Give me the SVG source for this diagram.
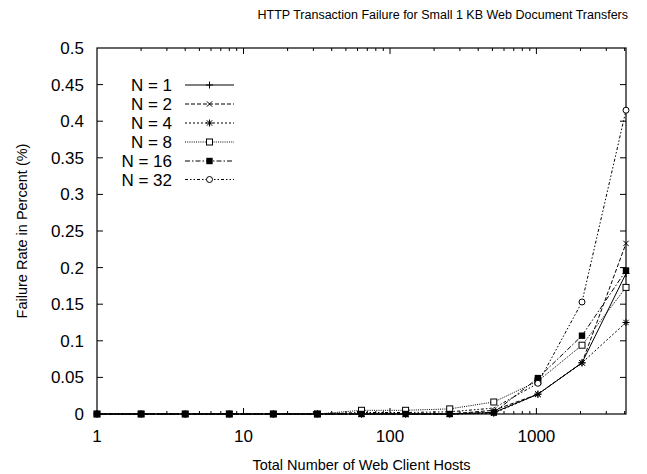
<svg xmlns="http://www.w3.org/2000/svg" width="647" height="474" viewBox="0 0 647 474">
  <style>
    text { font-family: "Liberation Sans", Arial, sans-serif; fill: #000; }
    .title { font-size: 12.5px; }
    .axlabel { font-size: 14.5px; }
    .tick { font-size: 17px; }
    .leg { font-size: 17px; text-anchor: end; }
    .frame { fill: none; stroke: #000; stroke-width: 1.2; }
    .tk { stroke: #000; stroke-width: 1; fill: none; }
    .s { fill: none; stroke: #000; stroke-width: 1; }
    .n1 { }
    .n2 { stroke-dasharray: 4 2; }
    .n4 { stroke-dasharray: 2 2; }
    .n8 { stroke-dasharray: 1 1.2; }
    .n16 { stroke-dasharray: 5 2 1.5 2; }
    .n32 { stroke-dasharray: 3 2 1.5 2 1.5 2; }
    .mk { fill: none; stroke: #000; stroke-width: 1; }
  </style>
  <defs>
    <g id="m-plus" class="mk"><path d="M-3.5,0H3.5M0,-3.5V3.5"/></g>
    <g id="m-cross" class="mk"><path d="M-2.7,-2.7L2.7,2.7M-2.7,2.7L2.7,-2.7"/></g>
    <g id="m-star" class="mk"><path d="M-3.5,0H3.5M0,-3.5V3.5M-2.7,-2.7L2.7,2.7M-2.7,2.7L2.7,-2.7"/></g>
    <g id="m-box"><rect x="-3" y="-3" width="6" height="6" fill="#fff" stroke="#000" stroke-width="1"/></g>
    <g id="m-fbox"><rect x="-3.2" y="-3.2" width="6.4" height="6.4" fill="#000"/></g>
    <g id="m-circ"><circle r="3" fill="#fff" stroke="#000" stroke-width="1"/></g>
  </defs>

  <!-- title and axis labels -->
  <text class="title" x="628" y="19" text-anchor="end">HTTP Transaction Failure for Small 1 KB Web Document Transfers</text>
  <text class="axlabel" x="361.5" y="470" text-anchor="middle">Total Number of Web Client Hosts</text>
  <text class="axlabel" transform="translate(27,231) rotate(-90)" text-anchor="middle">Failure Rate in Percent (%)</text>

  <!-- axes, ticks and tick labels -->
  <g id="axes">
    <rect class="frame" x="97" y="48" width="529" height="366"/>
    <path class="tk" d="
      M97,377.4h6M626,377.4h-6
      M97,340.8h6M626,340.8h-6
      M97,304.2h6M626,304.2h-6
      M97,267.6h6M626,267.6h-6
      M97,231h6M626,231h-6
      M97,194.4h6M626,194.4h-6
      M97,157.8h6M626,157.8h-6
      M97,121.2h6M626,121.2h-6
      M97,84.6h6M626,84.6h-6
      M243.5,414v-6M243.5,48v6
      M390,414v-6M390,48v6
      M536.4,414v-6M536.4,48v6
      M141.1,414v-3M141.1,48v3
      M166.9,414v-3M166.9,48v3
      M185.2,414v-3M185.2,48v3
      M199.4,414v-3M199.4,48v3
      M211,414v-3M211,48v3
      M220.8,414v-3M220.8,48v3
      M229.3,414v-3M229.3,48v3
      M236.7,414v-3M236.7,48v3
      M287.6,414v-3M287.6,48v3
      M313.4,414v-3M313.4,48v3
      M331.7,414v-3M331.7,48v3
      M345.9,414v-3M345.9,48v3
      M357.5,414v-3M357.5,48v3
      M367.3,414v-3M367.3,48v3
      M375.8,414v-3M375.8,48v3
      M383.3,414v-3M383.3,48v3
      M434.1,414v-3M434.1,48v3
      M459.9,414v-3M459.9,48v3
      M478.2,414v-3M478.2,48v3
      M492.4,414v-3M492.4,48v3
      M504,414v-3M504,48v3
      M513.8,414v-3M513.8,48v3
      M522.3,414v-3M522.3,48v3
      M529.8,414v-3M529.8,48v3
      M580.5,414v-3M580.5,48v3
      M606.3,414v-3M606.3,48v3
      M624.6,414v-3M624.6,48v3"/>
    <g class="tick" text-anchor="end">
      <text x="84" y="420">0</text>
      <text x="84" y="383.4">0.05</text>
      <text x="84" y="346.8">0.1</text>
      <text x="84" y="310.2">0.15</text>
      <text x="84" y="273.6">0.2</text>
      <text x="84" y="237">0.25</text>
      <text x="84" y="200.4">0.3</text>
      <text x="84" y="163.8">0.35</text>
      <text x="84" y="127.2">0.4</text>
      <text x="84" y="90.6">0.45</text>
      <text x="84" y="54">0.5</text>
    </g>
    <g class="tick" text-anchor="middle">
      <text x="97" y="442">1</text>
      <text x="243.5" y="442">10</text>
      <text x="390" y="442">100</text>
      <text x="536.4" y="442">1000</text>
    </g>
  </g>

  <!-- data series -->
  <g id="connectors">
    <polyline class="s n1" points="97,414 141.1,414 185.2,414 229.3,414 273.3,414 317.4,414 361.5,414 405.6,414 449.7,414 493.8,412.5 537.9,394.2 582,362.8 626,273.5"/>
    <polyline class="s n2" points="97,414 141.1,414 185.2,414 229.3,414 273.3,414 317.4,414 361.5,414 405.6,414 449.7,414 493.8,410.3 537.9,394.2 582,362.8 626,243.4"/>
    <polyline class="s n4" points="97,414 141.1,414 185.2,414 229.3,414 273.3,414 317.4,414 361.5,414 405.6,414 449.7,414 493.8,413.3 537.9,394.2 582,362.8 626,322.5"/>
    <polyline class="s n8" points="97,414 141.1,414 185.2,414 229.3,414 273.3,414 317.4,414 361.5,410.3 405.6,410.3 449.7,408.9 493.8,402 537.9,381.1 582,345.2 626,287.4"/>
    <polyline class="s n16" points="97,414 141.1,414 185.2,414 229.3,414 273.3,414 317.4,414 361.5,414 405.6,414 449.7,414 493.8,412.5 537.9,378.1 582,335.7 626,270.5"/>
    <polyline class="s n32" points="97,414 141.1,414 185.2,414 229.3,414 273.3,414 317.4,414 361.5,412.5 405.6,412.5 449.7,411.8 493.8,408.1 537.9,383.3 582,302 626,110.2"/>
  </g>

  <!-- point markers -->
  <g id="points">
    <g id="pts-n1">
      <use href="#m-plus" x="97" y="414"/><use href="#m-plus" x="141.1" y="414"/><use href="#m-plus" x="185.2" y="414"/><use href="#m-plus" x="229.3" y="414"/><use href="#m-plus" x="273.3" y="414"/><use href="#m-plus" x="317.4" y="414"/><use href="#m-plus" x="361.5" y="414"/><use href="#m-plus" x="405.6" y="414"/><use href="#m-plus" x="449.7" y="414"/><use href="#m-plus" x="493.8" y="412.5"/><use href="#m-plus" x="537.9" y="394.2"/><use href="#m-plus" x="582" y="362.8"/><use href="#m-plus" x="626" y="273.5"/>
    </g>
    <g id="pts-n2">
      <use href="#m-cross" x="97" y="414"/><use href="#m-cross" x="141.1" y="414"/><use href="#m-cross" x="185.2" y="414"/><use href="#m-cross" x="229.3" y="414"/><use href="#m-cross" x="273.3" y="414"/><use href="#m-cross" x="317.4" y="414"/><use href="#m-cross" x="361.5" y="414"/><use href="#m-cross" x="405.6" y="414"/><use href="#m-cross" x="449.7" y="414"/><use href="#m-cross" x="493.8" y="410.3"/><use href="#m-cross" x="537.9" y="394.2"/><use href="#m-cross" x="582" y="362.8"/><use href="#m-cross" x="626" y="243.4"/>
    </g>
    <g id="pts-n4">
      <use href="#m-star" x="97" y="414"/><use href="#m-star" x="141.1" y="414"/><use href="#m-star" x="185.2" y="414"/><use href="#m-star" x="229.3" y="414"/><use href="#m-star" x="273.3" y="414"/><use href="#m-star" x="317.4" y="414"/><use href="#m-star" x="361.5" y="414"/><use href="#m-star" x="405.6" y="414"/><use href="#m-star" x="449.7" y="414"/><use href="#m-star" x="493.8" y="413.3"/><use href="#m-star" x="537.9" y="394.2"/><use href="#m-star" x="582" y="362.8"/><use href="#m-star" x="626" y="322.5"/>
    </g>
    <g id="pts-n8">
      <use href="#m-box" x="97" y="414"/><use href="#m-box" x="141.1" y="414"/><use href="#m-box" x="185.2" y="414"/><use href="#m-box" x="229.3" y="414"/><use href="#m-box" x="273.3" y="414"/><use href="#m-box" x="317.4" y="414"/><use href="#m-box" x="361.5" y="410.3"/><use href="#m-box" x="405.6" y="410.3"/><use href="#m-box" x="449.7" y="408.9"/><use href="#m-box" x="493.8" y="402"/><use href="#m-box" x="537.9" y="381.1"/><use href="#m-box" x="582" y="345.2"/><use href="#m-box" x="626" y="287.4"/>
    </g>
    <g id="pts-n16">
      <use href="#m-fbox" x="97" y="414"/><use href="#m-fbox" x="141.1" y="414"/><use href="#m-fbox" x="185.2" y="414"/><use href="#m-fbox" x="229.3" y="414"/><use href="#m-fbox" x="273.3" y="414"/><use href="#m-fbox" x="317.4" y="414"/><use href="#m-fbox" x="361.5" y="414"/><use href="#m-fbox" x="405.6" y="414"/><use href="#m-fbox" x="449.7" y="414"/><use href="#m-fbox" x="493.8" y="412.5"/><use href="#m-fbox" x="537.9" y="378.1"/><use href="#m-fbox" x="582" y="335.7"/><use href="#m-fbox" x="626" y="270.5"/>
    </g>
    <g id="pts-n32">
      <use href="#m-circ" x="537.9" y="383.3"/><use href="#m-circ" x="582" y="302"/><use href="#m-circ" x="626" y="110.2"/>
    </g>
  </g>

  <!-- key -->
  <g id="legend">
    <g id="key-n1"><text class="leg" x="172" y="91">N = 1</text><line class="s n1" x1="185" y1="85" x2="234" y2="85"/><use href="#m-plus" x="209.5" y="85"/></g>
    <g id="key-n2"><text class="leg" x="172" y="110">N = 2</text><line class="s n2" x1="185" y1="104" x2="234" y2="104"/><use href="#m-cross" x="209.5" y="104"/></g>
    <g id="key-n4"><text class="leg" x="172" y="129">N = 4</text><line class="s n4" x1="185" y1="123" x2="234" y2="123"/><use href="#m-star" x="209.5" y="123"/></g>
    <g id="key-n8"><text class="leg" x="172" y="148">N = 8</text><line class="s n8" x1="185" y1="142" x2="234" y2="142"/><use href="#m-box" x="209.5" y="142"/></g>
    <g id="key-n16"><text class="leg" x="172" y="167">N = 16</text><line class="s n16" x1="185" y1="161" x2="234" y2="161"/><use href="#m-fbox" x="209.5" y="161"/></g>
    <g id="key-n32"><text class="leg" x="172" y="185.5">N = 32</text><line class="s n32" x1="185" y1="179.5" x2="234" y2="179.5"/><use href="#m-circ" x="209.5" y="179.5"/></g>
  </g>
</svg>
